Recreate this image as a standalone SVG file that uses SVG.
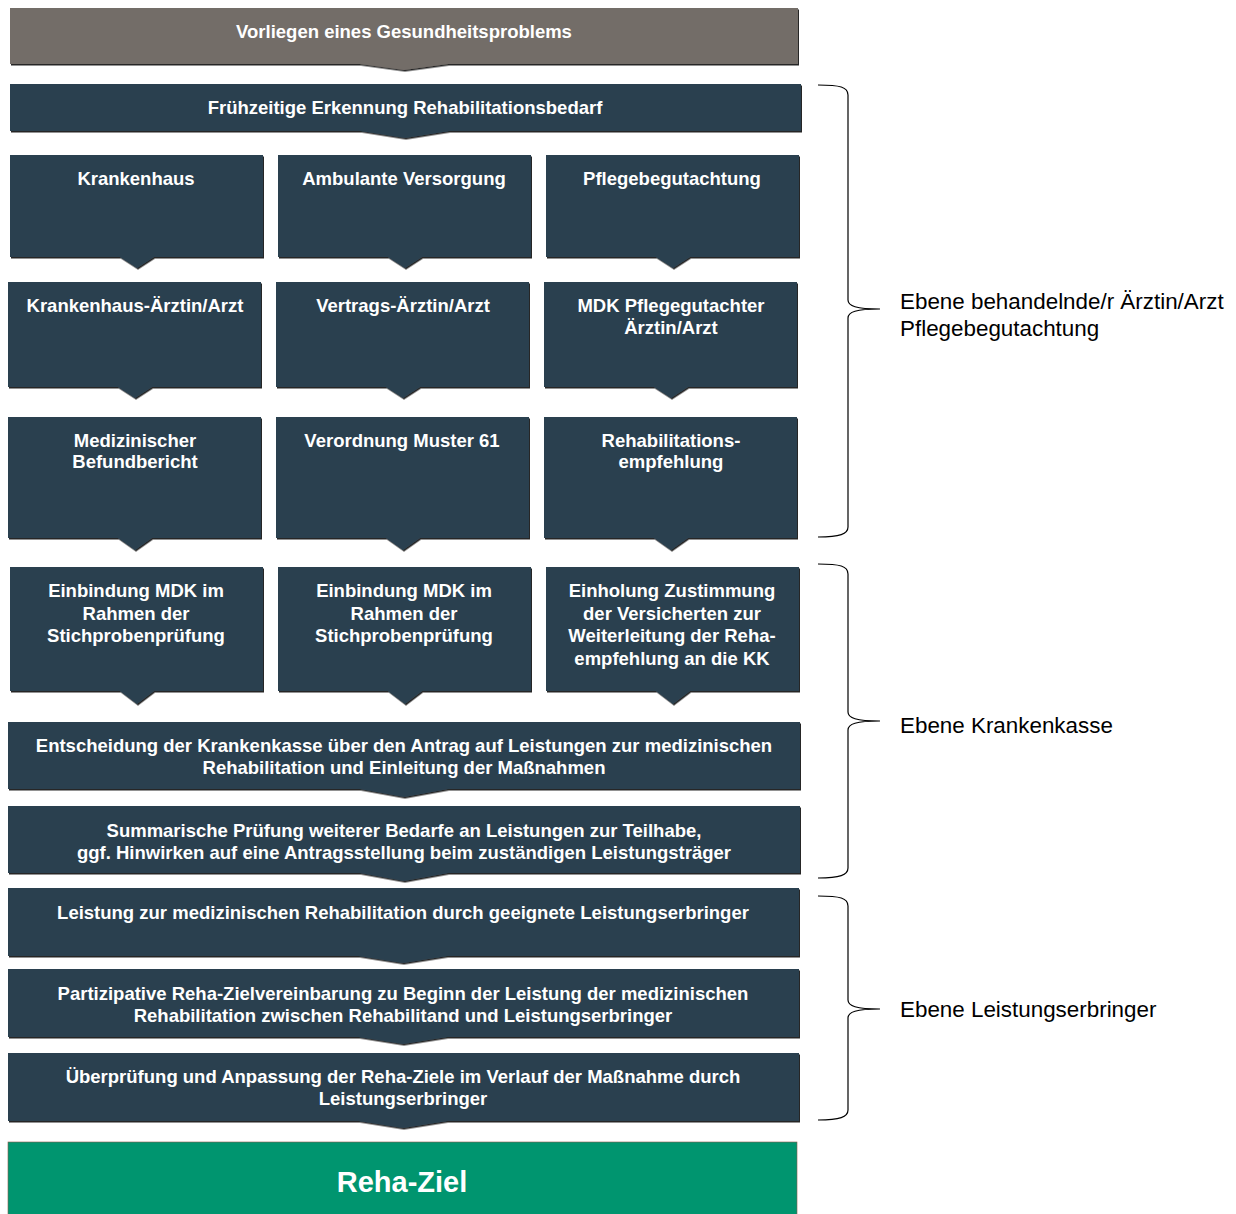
<svg xmlns="http://www.w3.org/2000/svg" width="1236" height="1214" viewBox="0 0 1236 1214">
<defs>
<filter id="sh" x="-2%" y="-5%" width="104%" height="115%">
<feDropShadow dx="1" dy="1.5" stdDeviation="0.6" flood-color="#000" flood-opacity="0.85"/>
</filter>
<style>
.box{fill:#2C4150;filter:url(#sh)}
.gray{fill:#736D68;filter:url(#sh)}
.green{fill:#00956F;stroke:#8a5a4a;stroke-width:0.6}
.t{font-family:"Liberation Sans",Arial,sans-serif;font-weight:bold;font-size:18.5px;fill:#fff;text-anchor:middle}
.big{font-size:29px}
.lbl{font-family:"Liberation Sans",Arial,sans-serif;font-size:22.4px;fill:#000}
.brace{fill:none;stroke:#000;stroke-width:1.2}
</style>
</defs>
<rect width="1236" height="1214" fill="#fff"/>

<g id="n_top"><path class="gray" d="M10,8H798V64H448L404,70L360,64H10Z"/><text class="t" x="404" y="38">Vorliegen eines Gesundheitsproblems</text></g>
<g id="n_frueh"><path class="box" d="M10,84H801V131H449L405,138L361,131H10Z"/><text class="t" x="405" y="114">Frühzeitige Erkennung Rehabilitationsbedarf</text></g>

<g id="n_kh"><path class="box" d="M10,155H263V257H154L137,268L120,257H10Z"/><text class="t" x="136" y="185">Krankenhaus</text></g>
<g id="n_amb"><path class="box" d="M278,155H531V257H422L405,268L388,257H278Z"/><text class="t" x="404" y="185">Ambulante Versorgung</text></g>
<g id="n_pflege"><path class="box" d="M546,155H799V257H690L673,268L656,257H546Z"/><text class="t" x="672" y="185">Pflegebegutachtung</text></g>

<g id="n_kharzt"><path class="box" d="M8,282H261V387H152L135,398L118,387H8Z"/><text class="t" x="135" y="312">Krankenhaus-Ärztin/Arzt</text></g>
<g id="n_vertrag"><path class="box" d="M276,282H529V387H420L403,398L386,387H276Z"/><text class="t" x="403" y="312">Vertrags-Ärztin/Arzt</text></g>
<g id="n_mdk"><path class="box" d="M544,282H797V387H688L671,398L654,387H544Z"/><text class="t" x="671" y="312">MDK Pflegegutachter</text><text class="t" x="671" y="334">Ärztin/Arzt</text></g>

<g id="n_befund"><path class="box" d="M8,417H261V538H152L135,550L118,538H8Z"/><text class="t" x="135" y="447">Medizinischer</text><text class="t" x="135" y="468">Befundbericht</text></g>
<g id="n_muster"><path class="box" d="M276,417H529V538H420L403,550L386,538H276Z"/><text class="t" x="402" y="447">Verordnung Muster 61</text></g>
<g id="n_empf"><path class="box" d="M544,417H797V538H688L671,550L654,538H544Z"/><text class="t" x="671" y="447">Rehabilitations-</text><text class="t" x="671" y="468">empfehlung</text></g>

<g id="n_mdk1"><path class="box" d="M10,567H263V691H154L137,704L120,691H10Z"/><text class="t" x="136" y="597">Einbindung MDK im</text><text class="t" x="136" y="620">Rahmen der</text><text class="t" x="136" y="642">Stichprobenprüfung</text></g>
<g id="n_mdk2"><path class="box" d="M278,567H531V691H422L405,704L388,691H278Z"/><text class="t" x="404" y="597">Einbindung MDK im</text><text class="t" x="404" y="620">Rahmen der</text><text class="t" x="404" y="642">Stichprobenprüfung</text></g>
<g id="n_zust"><path class="box" d="M546,567H799V691H690L673,704L656,691H546Z"/><text class="t" x="672" y="597">Einholung Zustimmung</text><text class="t" x="672" y="620">der Versicherten zur</text><text class="t" x="672" y="642">Weiterleitung der Reha-</text><text class="t" x="672" y="665">empfehlung an die KK</text></g>

<g id="n_entsch"><path class="box" d="M8,722H800V789H448L404,797L360,789H8Z"/><text class="t" x="404" y="752">Entscheidung der Krankenkasse über den Antrag auf Leistungen zur medizinischen</text><text class="t" x="404" y="774">Rehabilitation und Einleitung der Maßnahmen</text></g>
<g id="n_summ"><path class="box" d="M8,806H800V873H448L404,881L360,873H8Z"/><text class="t" x="404" y="837">Summarische Prüfung weiterer Bedarfe an Leistungen zur Teilhabe,</text><text class="t" x="404" y="859">ggf. Hinwirken auf eine Antragsstellung beim zuständigen Leistungsträger</text></g>

<g id="n_leist"><path class="box" d="M8,888H799V956H447L403,963L359,956H8Z"/><text class="t" x="403" y="919">Leistung zur medizinischen Rehabilitation durch geeignete Leistungserbringer</text></g>
<g id="n_partiz"><path class="box" d="M8,969H799V1037H447L403,1044L359,1037H8Z"/><text class="t" x="403" y="1000">Partizipative Reha-Zielvereinbarung zu Beginn der Leistung der medizinischen</text><text class="t" x="403" y="1022">Rehabilitation zwischen Rehabilitand und Leistungserbringer</text></g>
<g id="n_ueber"><path class="box" d="M8,1053H799V1121H447L403,1128L359,1121H8Z"/><text class="t" x="403" y="1083">Überprüfung und Anpassung der Reha-Ziele im Verlauf der Maßnahme durch</text><text class="t" x="403" y="1105">Leistungserbringer</text></g>

<g id="n_ziel"><rect class="green" x="8" y="1142" width="789" height="74"/><text class="t big" x="402" y="1192">Reha-Ziel</text></g>

<g id="connectors">
<path class="brace" d="M818,85C840,85 848,87 848,95V300C848,306 856,309 880,309M880,309C856,309 848,312 848,318V527C848,534 840,537 818,537"/>
<path class="brace" d="M818,564C840,564 848,566 848,574V712C848,718 856,721 880,721M880,721C856,721 848,724 848,730V868C848,875 840,878 818,878"/>
<path class="brace" d="M818,896C840,896 848,898 848,906V1000C848,1006 856,1009 880,1009M880,1009C856,1009 848,1012 848,1018V1110C848,1117 840,1120 818,1120"/>
</g>
<g id="labels">
<text class="lbl" x="900" y="309">Ebene behandelnde/r Ärztin/Arzt</text>
<text class="lbl" x="900" y="336">Pflegebegutachtung</text>
<text class="lbl" x="900" y="733">Ebene Krankenkasse</text>
<text class="lbl" x="900" y="1017">Ebene Leistungserbringer</text>
</g>
</svg>
